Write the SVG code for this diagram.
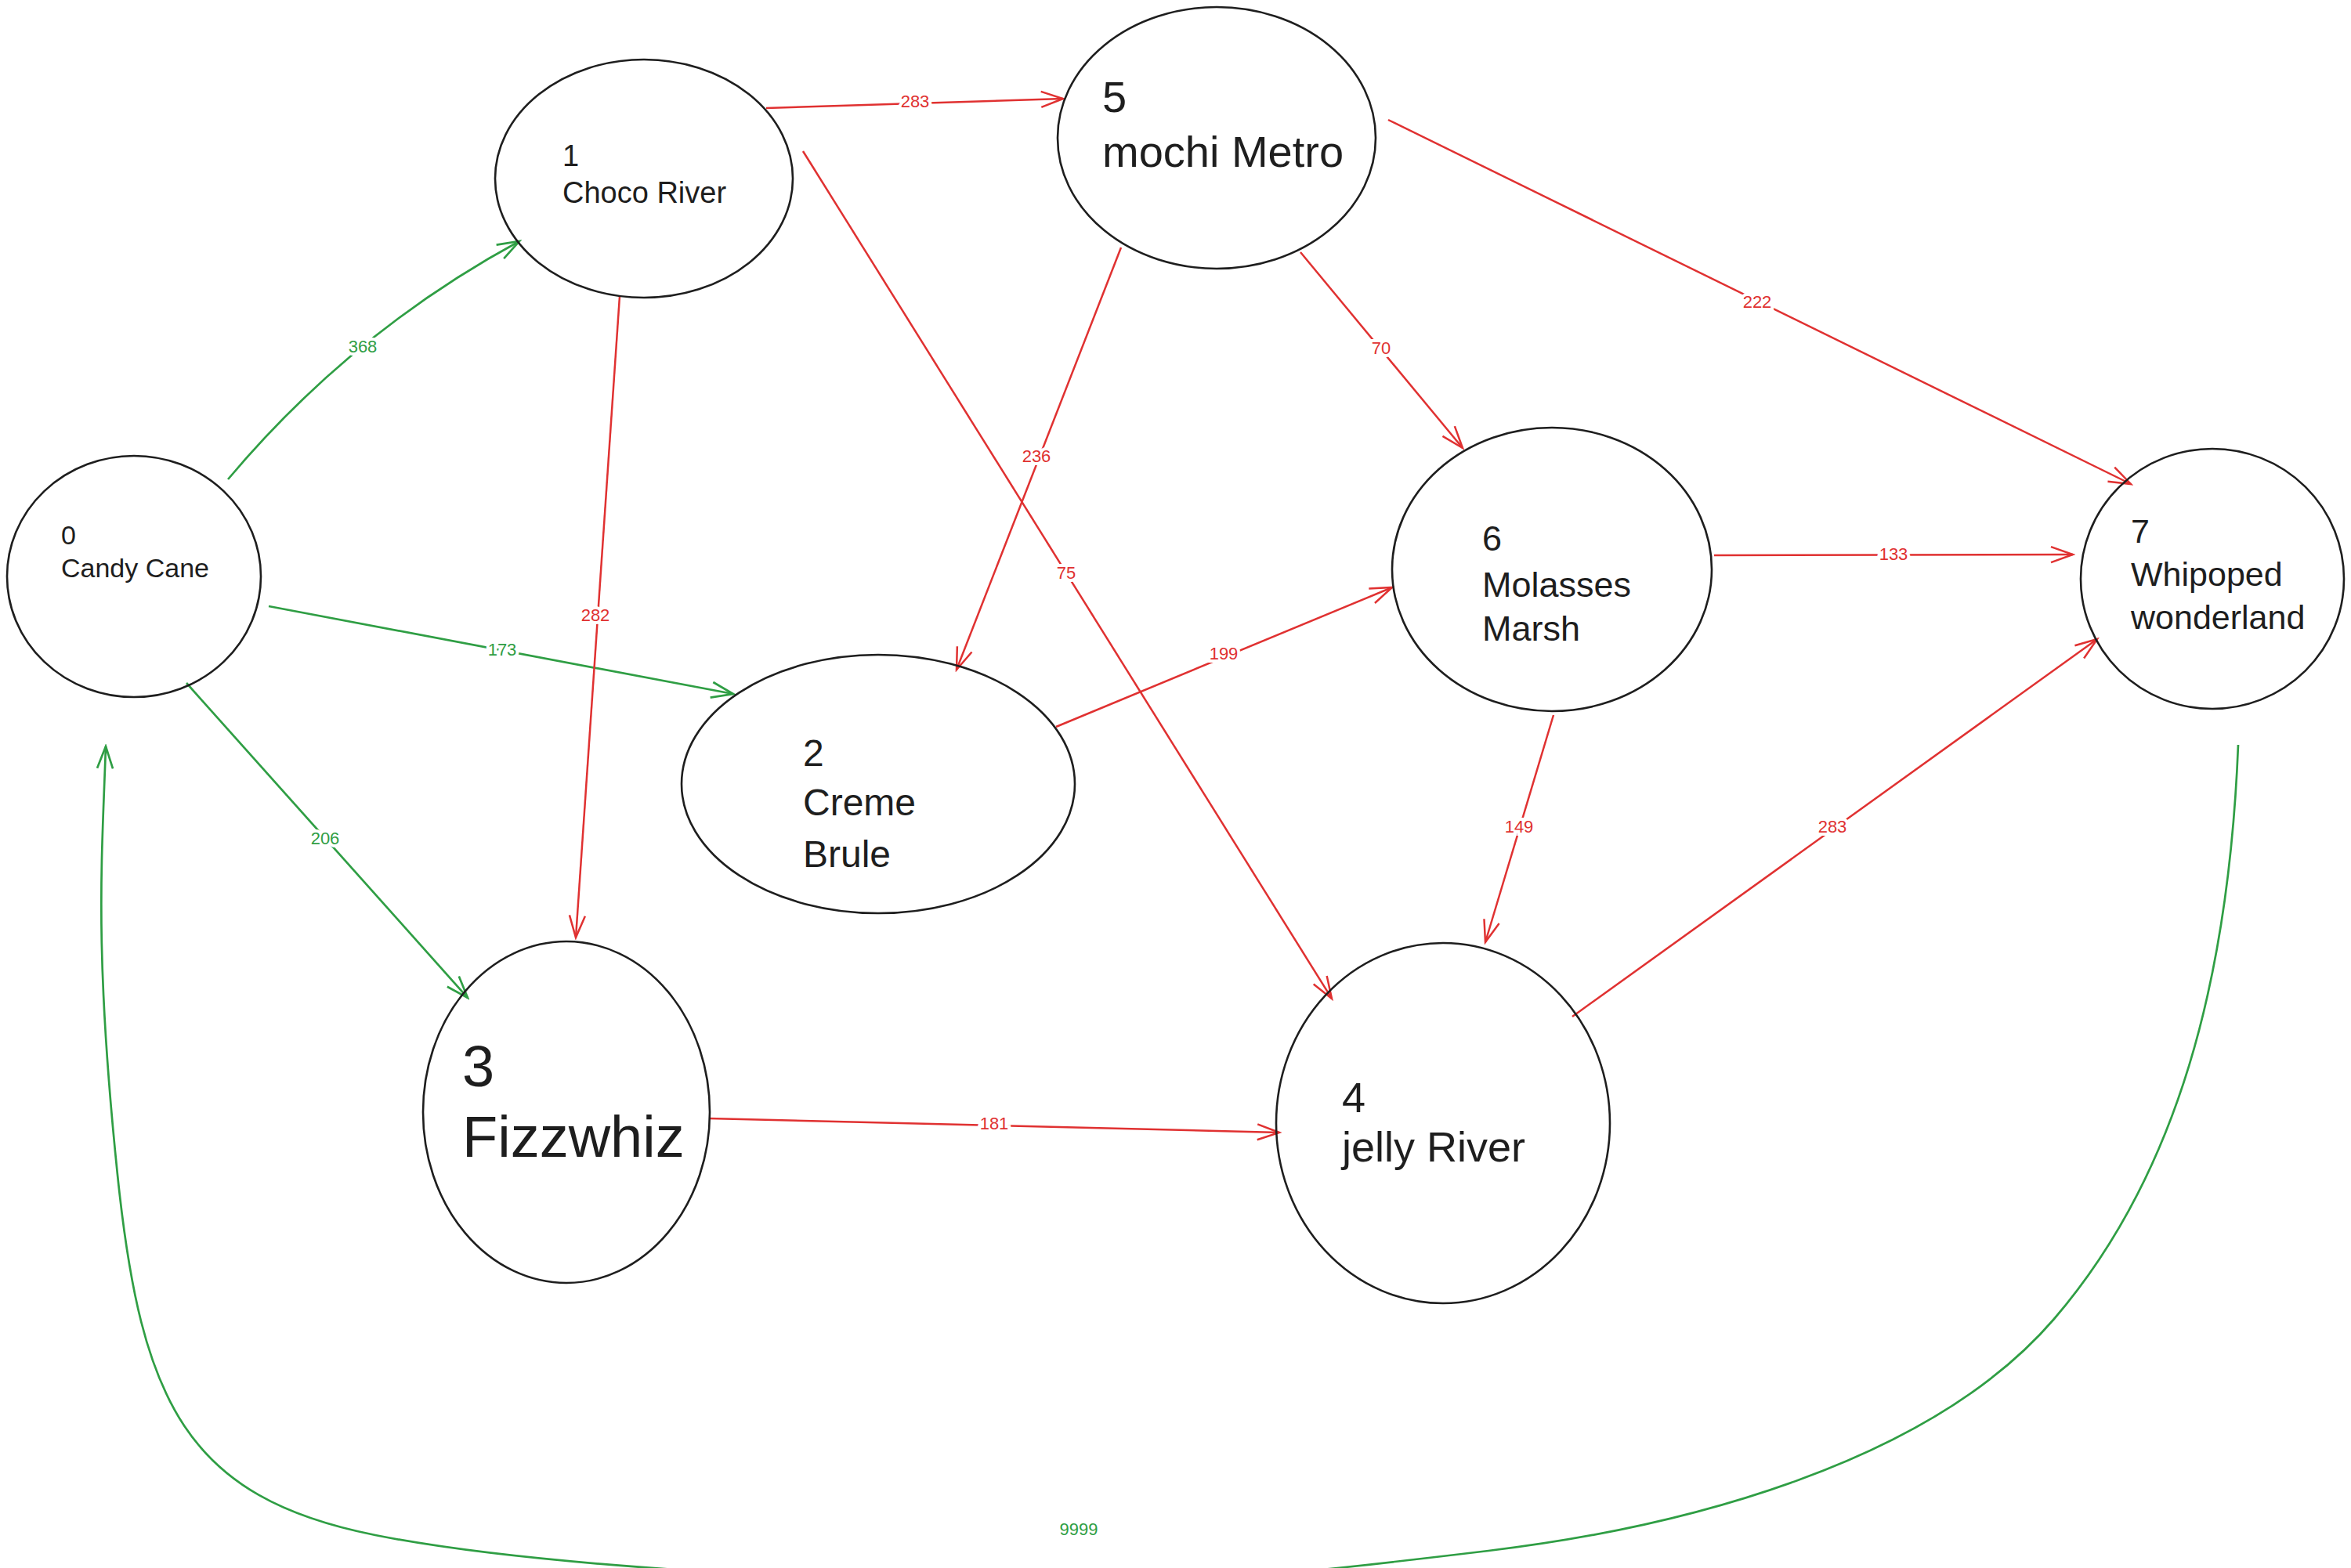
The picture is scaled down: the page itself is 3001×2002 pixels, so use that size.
<svg xmlns="http://www.w3.org/2000/svg" width="3001" height="2002" viewBox="0 0 3001 2002">
<style>
.node{fill:none;stroke:#1e1e1e;stroke-width:2.6}
.nt{font-family:"Liberation Sans","DejaVu Sans",sans-serif;fill:#1e1e1e}
.er{fill:none;stroke:#e03131;stroke-width:2.5;marker-end:url(#ar)}
.eg{fill:none;stroke:#2f9e44;stroke-width:2.7;marker-end:url(#ag)}
.lr{font-family:"Liberation Sans","DejaVu Sans",sans-serif;font-size:22px;fill:#e03131;text-anchor:middle;stroke:#fff;stroke-width:8;paint-order:stroke}
.lg{font-family:"Liberation Sans","DejaVu Sans",sans-serif;font-size:22px;fill:#2f9e44;text-anchor:middle;stroke:#fff;stroke-width:8;paint-order:stroke}
</style>
<defs>
<marker id="ar" viewBox="0 0 40 30" markerWidth="40" markerHeight="30" refX="37" refY="15" orient="auto" markerUnits="userSpaceOnUse"><path d="M9 5 L37 15 L9 25" fill="none" stroke="#e03131" stroke-width="2.5"/></marker>
<marker id="ag" viewBox="0 0 40 30" markerWidth="40" markerHeight="30" refX="37" refY="15" orient="auto" markerUnits="userSpaceOnUse"><path d="M9 5 L37 15 L9 25" fill="none" stroke="#2f9e44" stroke-width="2.7"/></marker>
</defs>
<rect width="3001" height="2002" fill="#fff"/>
<g id="connectors">
<path id="e0-1" class="eg" d="M291,612 Q449,424 663,308"/>
<path id="e0-2" class="eg" d="M343,774 L936,886"/>
<path id="e0-3" class="eg" d="M238,872 L597,1274"/>
<path id="e7-0" class="eg" d="M2857,951 C2845,1250 2780,1500 2622,1684 S2150,1950 1900,1980 S1550,2020 1377,2022 S720,2008 479,1960 S180,1790 150,1500 S130,1100 135,953"/>
<path id="e1-5" class="er" d="M978,138 L1357,126"/>
<path id="e1-3" class="er" d="M791,378 L735,1197"/>
<path id="e1-4" class="er" d="M1025,193 L1700,1275"/>
<path id="e5-2" class="er" d="M1431,316 L1221,855"/>
<path id="e5-6" class="er" d="M1660,322 L1867,572"/>
<path id="e5-7" class="er" d="M1772,153 L2720,618"/>
<path id="e6-7" class="er" d="M2188,709 L2646,708"/>
<path id="e2-6" class="er" d="M1348,928 L1777,750"/>
<path id="e6-4" class="er" d="M1983,913 L1896,1203"/>
<path id="e4-7" class="er" d="M2007,1298 L2677,816"/>
<path id="e3-4" class="er" d="M905,1428 L1633,1446"/>
<text class="lg" x="463" y="450">368</text>
<text class="lg" x="641" y="837">173</text>
<text class="lg" x="415" y="1078">206</text>
<text class="lg" x="1377" y="1960">9999</text>
<text class="lr" x="1168" y="137">283</text>
<text class="lr" x="760" y="793">282</text>
<text class="lr" x="1361" y="739">75</text>
<text class="lr" x="1323" y="590">236</text>
<text class="lr" x="1763" y="452">70</text>
<text class="lr" x="2243" y="393">222</text>
<text class="lr" x="2417" y="715">133</text>
<text class="lr" x="1562" y="842">199</text>
<text class="lr" x="1939" y="1063">149</text>
<text class="lr" x="2339" y="1063">283</text>
<text class="lr" x="1269" y="1442">181</text>
</g>
<g id="node0">
<ellipse class="node" cx="171" cy="736" rx="162" ry="154"/>
<text class="nt" font-size="34"><tspan x="78" y="695">0</tspan><tspan x="78" y="737">Candy Cane</tspan></text>
</g>
<g id="node1">
<ellipse class="node" cx="822" cy="228" rx="190" ry="152"/>
<text class="nt" font-size="38"><tspan x="718" y="212">1</tspan><tspan x="718" y="259">Choco River</tspan></text>
</g>
<g id="node2">
<ellipse class="node" cx="1121" cy="1001" rx="251" ry="165"/>
<text class="nt" font-size="48"><tspan x="1025" y="978">2</tspan><tspan x="1025" y="1041">Creme</tspan><tspan x="1025" y="1107">Brule</tspan></text>
</g>
<g id="node3">
<ellipse class="node" cx="723" cy="1420" rx="183" ry="218"/>
<text class="nt" font-size="74"><tspan x="590" y="1387">3</tspan><tspan x="590" y="1477">Fizzwhiz</tspan></text>
</g>
<g id="node4">
<ellipse class="node" cx="1842" cy="1434" rx="213" ry="230"/>
<text class="nt" font-size="54"><tspan x="1713" y="1420">4</tspan><tspan x="1713" y="1483">jelly River</tspan></text>
</g>
<g id="node5">
<ellipse class="node" cx="1553" cy="176" rx="203" ry="167"/>
<text class="nt" font-size="56"><tspan x="1407" y="143">5</tspan><tspan x="1407" y="213">mochi Metro</tspan></text>
</g>
<g id="node6">
<ellipse class="node" cx="1981" cy="727" rx="204" ry="181"/>
<text class="nt" font-size="45"><tspan x="1892" y="703">6</tspan><tspan x="1892" y="762">Molasses</tspan><tspan x="1892" y="818">Marsh</tspan></text>
</g>
<g id="node7">
<ellipse class="node" cx="2824" cy="739" rx="168" ry="166"/>
<text class="nt" font-size="43"><tspan x="2720" y="693">7</tspan><tspan x="2720" y="748">Whipoped</tspan><tspan x="2720" y="803">wonderland</tspan></text>
</g>
</svg>
